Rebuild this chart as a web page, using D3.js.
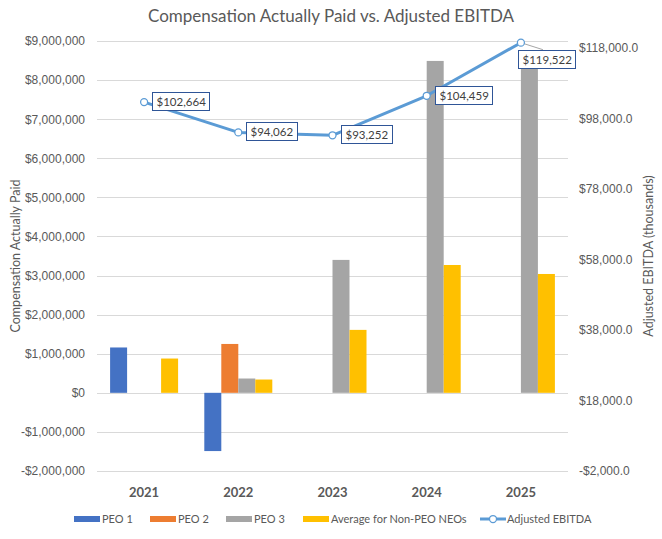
<!DOCTYPE html>
<html>
<head>
<meta charset="utf-8">
<script src="https://cdn.jsdelivr.net/npm/d3@7"></script>
<style>
  body { margin: 0; background: #fff; }
  svg { font-family: Lato, "Open Sans", sans-serif; }
</style>
</head>
<body>
<div id="chart"></div>
<script>
// chart data
const years = ["2021", "2022", "2023", "2024", "2025"];
const seriesNames = ["PEO 1", "PEO 2", "PEO 3", "Average for Non-PEO NEOs"];
const peo1 = [1160000, -1490000, null, null, null];
const peo2 = [null, 1250000, null, null, null];
const peo3 = [null, 366000, 3400000, 8490000, 8450000];
const avgNeo = [877000, 340000, 1610000, 3270000, 3040000];
const ebitda = [102664, 94062, 93252, 104459, 119522];
const leftTicks = [-2000000, -1000000, 0, 1000000, 2000000, 3000000, 4000000, 5000000, 6000000, 7000000, 8000000, 9000000];
const rightTicks = [-2000, 18000, 38000, 58000, 78000, 98000, 118000];

const colors = ["#4472C4", "#ED7D31", "#A5A5A5", "#FFC000"];
const lineColor = "#5B9BD5";
const textColor = "#595959";

const width = 662, height = 539;
const plot = { left: 97, right: 568, top: 41, bottom: 471 };

const svg = d3.select("#chart").append("svg")
    .attr("width", width)
    .attr("height", height);

// scales
const x = d3.scaleBand().domain(years).range([plot.left, plot.right]);
const xSub = d3.scaleBand().domain(seriesNames).range([0, 68]);
const yLeft = d3.scaleLinear().domain([-2000000, 9000000]).range([plot.bottom, plot.top]);
const yRight = d3.scaleLinear().domain([-2000, 120000]).range([plot.bottom, plot.top]);

// title
svg.append("text")
    .attr("x", 331).attr("y", 22)
    .attr("text-anchor", "middle")
    .style("font-size", "17px")
    .style("fill", textColor)
    .text("Compensation Actually Paid vs. Adjusted EBITDA");

// gridlines
svg.append("g").selectAll("line")
    .data(leftTicks)
    .join("line")
    .attr("x1", plot.left).attr("x2", plot.right)
    .attr("y1", d => Math.round(yLeft(d)) + 0.5)
    .attr("y2", d => Math.round(yLeft(d)) + 0.5)
    .attr("stroke", "#D9D9D9")
    .attr("stroke-width", 1);

// left axis
const fmtLeft = d => (d < 0 ? "-$" : "$") + d3.format(",")(Math.abs(d));
const leftAxis = svg.append("g")
    .attr("transform", `translate(${plot.left - 12},0)`)
    .call(d3.axisLeft(yLeft).tickValues(leftTicks).tickFormat(fmtLeft).tickSize(0).tickPadding(0));
leftAxis.select(".domain").remove();
leftAxis.selectAll("text").style("font-size", "12px").style("fill", textColor).attr("font-family", null);

// right axis
const fmtRight = d => (d < 0 ? "-$" : "$") + d3.format(",.1f")(Math.abs(d));
const rightAxis = svg.append("g")
    .attr("transform", `translate(${plot.right + 11},0)`)
    .call(d3.axisRight(yRight).tickValues(rightTicks).tickFormat(fmtRight).tickSize(0).tickPadding(0));
rightAxis.select(".domain").remove();
rightAxis.selectAll("text").style("font-size", "12px").style("fill", textColor).attr("font-family", null);

// axis titles
svg.append("text")
    .attr("transform", `translate(20,${(plot.top + plot.bottom) / 2}) rotate(-90)`)
    .attr("text-anchor", "middle")
    .style("font-size", "12.5px")
    .style("fill", textColor)
    .text("Compensation Actually Paid");

svg.append("text")
    .attr("transform", `translate(653,${(plot.top + plot.bottom) / 2}) rotate(-90)`)
    .attr("text-anchor", "middle")
    .style("font-size", "12.5px")
    .style("fill", textColor)
    .text("Adjusted EBITDA (thousands)");

// bars
const barData = [peo1, peo2, peo3, avgNeo];
seriesNames.forEach((name, i) => {
    svg.append("g").selectAll("rect")
        .data(years.map((y, j) => ({ year: y, value: barData[i][j] })).filter(d => d.value !== null))
        .join("rect")
        .attr("x", d => x(d.year) + x.bandwidth() / 2 - 34 + xSub(name))
        .attr("width", xSub.bandwidth())
        .attr("y", d => yLeft(Math.max(0, d.value)))
        .attr("height", d => Math.abs(yLeft(d.value) - yLeft(0)))
        .attr("fill", colors[i]);
});

// category labels
svg.append("g").selectAll("text")
    .data(years)
    .join("text")
    .attr("x", d => x(d) + x.bandwidth() / 2)
    .attr("y", 497)
    .attr("text-anchor", "middle")
    .style("font-size", "13px")
    .style("font-weight", "bold")
    .style("fill", textColor)
    .text(d => d);

// EBITDA line
const linePts = years.map((y, i) => ({ x: x(y) + x.bandwidth() / 2, y: yRight(ebitda[i]), v: ebitda[i] }));
svg.append("path")
    .datum(linePts)
    .attr("d", d3.line().x(d => d.x).y(d => d.y))
    .attr("fill", "none")
    .attr("stroke", lineColor)
    .attr("stroke-width", 3)
    .attr("stroke-linejoin", "round");

// leader line for the last label
const last = linePts[linePts.length - 1];
svg.append("line")
    .attr("x1", last.x).attr("y1", last.y)
    .attr("x2", last.x + 22).attr("y2", last.y + 7)
    .attr("stroke", "#A6A6A6").attr("stroke-width", 1);

svg.append("g").selectAll("circle")
    .data(linePts)
    .join("circle")
    .attr("cx", d => d.x).attr("cy", d => d.y)
    .attr("r", 3.5)
    .attr("fill", "#fff")
    .attr("stroke", lineColor)
    .attr("stroke-width", 1.25);

// data labels
const fmtLabel = d => "$" + d3.format(",")(d);
linePts.forEach((p, i) => {
    const isLast = i === linePts.length - 1;
    const g = svg.append("g");
    const t = g.append("text")
        .style("font-size", "11.5px")
        .style("fill", "#404040")
        .text(fmtLabel(p.v));
    const w = t.node().getComputedTextLength() + 8;
    const h = 18;
    const bx = isLast ? p.x - 3 : p.x + 8;
    const by = isLast ? p.y + 7 : p.y - h / 2 - 1;
    g.insert("rect", "text")
        .attr("x", Math.round(bx) + 0.5).attr("y", Math.round(by) + 0.5)
        .attr("width", Math.round(w)).attr("height", h)
        .attr("fill", "#fff")
        .attr("stroke", "#2F5597")
        .attr("stroke-width", 1);
    t.attr("x", Math.round(bx) + 4.5).attr("y", Math.round(by) + 13.5);
});

// legend
const legend = svg.append("g");
const legendX = [74, 150, 226, 303];
seriesNames.forEach((name, i) => {
    legend.append("rect")
        .attr("x", legendX[i]).attr("y", 516)
        .attr("width", 26).attr("height", 6)
        .attr("fill", colors[i]);
    legend.append("text")
        .attr("x", legendX[i] + 28).attr("y", 523)
        .style("font-size", "11px")
        .style("fill", textColor)
        .text(name);
});
legend.append("line")
    .attr("x1", 480).attr("x2", 506)
    .attr("y1", 519).attr("y2", 519)
    .attr("stroke", lineColor).attr("stroke-width", 3);
legend.append("circle")
    .attr("cx", 493).attr("cy", 519).attr("r", 3.5)
    .attr("fill", "#fff").attr("stroke", lineColor).attr("stroke-width", 1.25);
legend.append("text")
    .attr("x", 507).attr("y", 523)
    .style("font-size", "11px")
    .style("fill", textColor)
    .text("Adjusted EBITDA");
</script>
</body>
</html>
